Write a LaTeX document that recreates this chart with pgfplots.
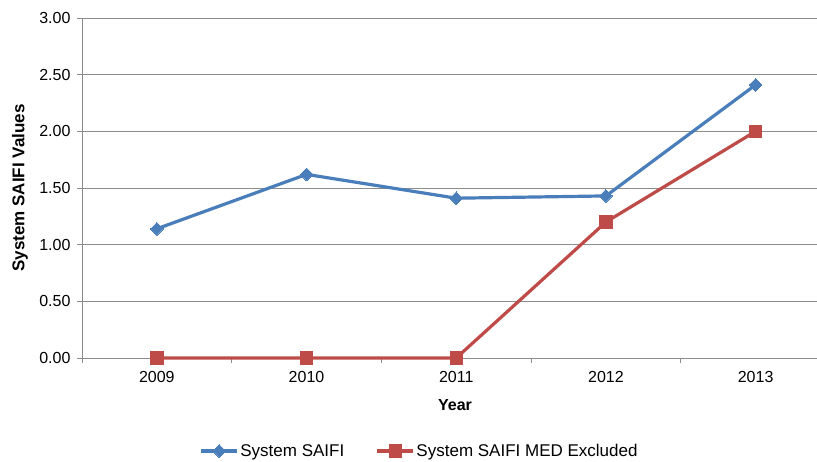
\documentclass[border=0pt]{standalone}
\usepackage{fontspec}
\setmainfont{Liberation Sans}
\usepackage{pgfplots}
\pgfplotsset{compat=1.18}
\definecolor{sblue}{HTML}{4A7EBB}
\definecolor{sred}{HTML}{BE4B48}
\definecolor{gridg}{HTML}{8C8C8C}
\begin{document}
\begin{tikzpicture}
\begin{axis}[
  at={(0,0)}, anchor=south west,
  scale only axis, width=735pt, height=340pt,
  xmin=-0.5, xmax=4.41, ymin=0, ymax=3,
  axis x line*=bottom, axis y line*=left,
  axis line style={gridg, line width=0.9pt, -},
  xtick={0,1,2,3,4}, xticklabels={2009,2010,2011,2012,2013},
  minor xtick={-0.5,0.5,1.5,2.5,3.5},
  major x tick style={draw=none},
  minor x tick style={gridg, line width=0.9pt},
  ytick={0,0.5,1,1.5,2,2.5,3},
  y tick style={gridg, line width=0.9pt},
  tick align=outside, major tick length=5pt, minor tick length=5pt,
  ymajorgrids, grid style={gridg, line width=0.9pt},
  /pgf/number format/.cd, fixed, fixed zerofill, precision=2, assume math mode=true,
  /pgfplots/.cd,
  tick label style={font=\fontsize{16}{19}\selectfont, black},
  xticklabel style={yshift=-5pt},
  yticklabel style={xshift=-3pt},
  xlabel={Year}, ylabel={System SAIFI Values},
  x label style={font=\fontsize{16}{19}\selectfont\bfseries, at={(axis description cs:0.5075,-0.138)}, anchor=center},
  y label style={font=\fontsize{17}{20}\selectfont\bfseries, at={(axis description cs:-0.0844,0.5)}, anchor=center},
  legend style={at={(axis description cs:0.459,-0.2735)}, anchor=center, draw=none, fill=none,
    font=\fontsize{17}{20}\selectfont, legend columns=2,
    nodes={inner sep=1.5pt},
    /tikz/every even column/.append style={column sep=30pt}},
  legend cell align=left,
  legend image code/.code={\draw[mark repeat=2,mark phase=2] plot coordinates {(0pt,0pt)(18pt,0pt)(36pt,0pt)};},
  clip=false,
]
\addplot[sblue, line width=3.2pt, mark=square*, mark size=4.5pt, mark options={solid, rotate=45, line width=0pt, draw=sblue, fill=sblue}]
  coordinates {(0,1.14) (1,1.62) (2,1.41) (3,1.43) (4,2.41)};
\addlegendentry{System SAIFI}
\addplot[sred, line width=3.2pt, mark=square*, mark size=6.2pt, mark options={solid, line width=0pt, draw=sred, fill=sred}]
  coordinates {(0,0) (1,0) (2,0) (3,1.20) (4,2.00)};
\addlegendentry{System SAIFI MED Excluded}
\end{axis}
\pgfresetboundingbox
\path[use as bounding box] (-82pt,-104pt) rectangle (735pt,358pt);
\end{tikzpicture}
\end{document}
